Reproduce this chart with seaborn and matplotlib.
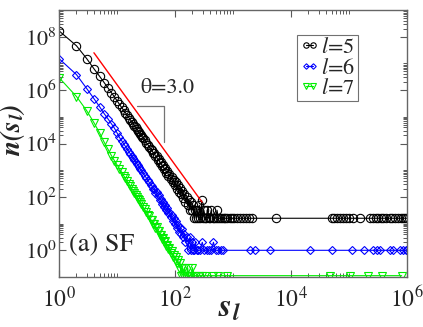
import numpy as np
import matplotlib
matplotlib.use("Agg")
import matplotlib.pyplot as plt
import matplotlib.ticker as mticker
import seaborn as sns

# cluster size distributions n(s_l) (log10 n)
s5 = [1, 2, 3, 4, 5, 6, 7, 8, 9, 10,
      11, 12, 13, 14, 15, 16, 17, 18, 19, 20,
      21, 22, 23, 24, 25, 26, 27, 28, 30, 32,
      34, 36, 38, 40, 42, 44, 46, 48, 50, 52,
      55, 57, 60, 62, 65, 68, 71, 74, 77, 80,
      84, 87, 91, 95, 99, 103, 108, 112, 117, 122,
      127, 133, 139, 145, 151, 158, 165, 172, 179, 187,
      195, 204, 213, 222, 232, 242, 252, 263, 275, 288,
      300, 315, 330, 345, 360, 380, 400, 420, 445, 470,
      500, 530, 560, 600, 640, 690, 740, 800, 870, 950,
      1050, 1150, 1300, 1500, 1700, 1900, 2100, 5500, 51000, 56000,
      62000, 70000, 78000, 88000, 100000, 115000, 155000, 230000, 260000, 290000,
      320000, 350000, 390000, 440000, 500000, 560000, 630000, 700000, 780000, 860000,
      940000, 1000000]
logn5 = [8.22, 7.66, 7.18, 6.80, 6.52, 6.28, 6.08, 5.90, 5.75, 5.60,
         5.47, 5.35, 5.25, 5.15, 5.05, 4.97, 4.89, 4.81, 4.74, 4.67,
         4.61, 4.54, 4.48, 4.42, 4.36, 4.31, 4.26, 4.21, 4.12, 4.03,
         3.95, 3.88, 3.80, 3.76, 3.65, 3.64, 3.52, 3.53, 3.40, 3.42,
         3.28, 3.30, 3.15, 3.19, 3.03, 3.08, 2.90, 2.96, 2.80, 2.86,
         2.66, 2.76, 2.54, 2.64, 2.44, 2.54, 2.30, 2.44, 2.18, 2.32,
         2.10, 2.22, 1.95, 2.10, 1.80, 2.00, 1.68, 1.90, 1.50, 1.80,
         1.50, 1.68, 1.20, 1.50, 1.20, 1.50, 1.20, 1.68, 1.20, 1.87,
         1.20, 1.50, 1.20, 1.20, 1.50, 1.20, 1.20, 1.50, 1.20, 1.20,
         1.20, 1.50, 1.20, 1.20, 1.20, 1.20, 1.20, 1.20, 1.20, 1.20,
         1.20, 1.20, 1.20, 1.20, 1.20, 1.20, 1.20, 1.20, 1.20, 1.20,
         1.20, 1.20, 1.20, 1.20, 1.20, 1.20, 1.20, 1.20, 1.20, 1.20,
         1.20, 1.20, 1.20, 1.20, 1.20, 1.20, 1.20, 1.20, 1.20, 1.20,
         1.20, 1.20]

s6 = [1, 2, 3, 4, 5, 6, 7, 8, 9, 10,
      11, 12, 13, 14, 15, 16, 17, 18, 19, 20,
      21, 22, 23, 24, 25, 26, 28, 30, 32, 34,
      36, 38, 40, 42, 44, 46, 48, 50, 52, 55,
      57, 60, 62, 65, 68, 71, 74, 77, 80, 84,
      87, 91, 95, 99, 103, 108, 112, 117, 122, 127,
      133, 139, 145, 151, 158, 165, 172, 180, 188, 196,
      205, 215, 225, 235, 250, 270, 295, 320, 350, 380,
      420, 460, 500, 550, 610, 680, 1950, 2400, 4400, 21000,
      51000, 112000, 182000, 257000, 300000, 340000, 510000, 575000, 760000, 850000,
      950000, 1000000]
logn6 = [7.18, 6.58, 6.06, 5.68, 5.38, 5.12, 4.92, 4.74, 4.58, 4.40,
         4.23, 4.11, 3.99, 3.89, 3.79, 3.70, 3.61, 3.53, 3.45, 3.38,
         3.31, 3.24, 3.18, 3.12, 3.06, 3.00, 2.90, 2.80, 2.71, 2.62,
         2.54, 2.46, 2.42, 2.28, 2.30, 2.14, 2.17, 2.02, 2.06, 1.88,
         1.93, 1.75, 1.81, 1.63, 1.68, 1.50, 1.57, 1.38, 1.45, 1.25,
         1.34, 1.11, 1.20, 1.00, 1.08, 0.85, 0.95, 0.70, 0.85, 0.60,
         0.78, 0.48, 0.60, 0.30, 0.48, 0.00, 0.30, 0.48, 0.00, 0.30,
         0.00, 0.00, 0.30, 0.00, 0.00, 0.00, 0.30, 0.00, 0.00, 0.00,
         0.00, 0.30, 0.00, 0.00, 0.00, 0.00, 0.00, 0.00, 0.00, 0.00,
         0.00, 0.00, 0.00, 0.00, 0.00, 0.00, 0.00, 0.00, 0.00, 0.00,
         0.00, 0.00]

s7 = [1, 2, 3, 4, 5, 6, 7, 8, 9, 10,
      11, 12, 13, 14, 15, 16, 17, 18, 19, 20,
      21, 22, 23, 24, 25, 26, 28, 30, 32, 34,
      36, 38, 40, 42, 44, 46, 48, 50, 52, 55,
      57, 60, 62, 65, 68, 71, 74, 77, 80, 84,
      87, 91, 95, 99, 103, 108, 112, 117, 122, 127,
      133, 139, 145, 151, 158, 165, 172, 180, 190, 200,
      215, 230, 260, 290, 330, 455, 550, 790, 47000, 105000,
      215000, 370000, 810000]
logn7 = [6.47, 5.76, 5.23, 4.78, 4.40, 4.05, 3.78, 3.55, 3.36, 3.20,
         3.06, 2.92, 2.80, 2.69, 2.58, 2.49, 2.40, 2.31, 2.22, 2.15,
         2.08, 2.00, 1.93, 1.87, 1.81, 1.75, 1.64, 1.53, 1.43, 1.34,
         1.29, 1.13, 1.13, 0.98, 0.99, 0.84, 0.86, 0.72, 0.73, 0.57,
         0.59, 0.43, 0.47, 0.30, 0.33, 0.16, 0.21, 0.05, 0.08, -0.09,
         -0.03, -0.25, -0.17, -0.35, -0.25, -0.47, -0.35, -0.65, -0.47, -0.95,
         -0.65, -0.95, -0.65, -0.95, -0.95, -0.65, -0.95, -0.95, -0.95, -0.65,
         -0.95, -0.95, -0.95, -0.95, -0.95, -0.95, -0.95, -0.95, -0.95, -0.95,
         -0.95, -0.95, -0.95]

# guide line with slope -3 and the bracket next to it
guide_s = [4, 292]
guide_n = [2.5e7, 64]
bracket_s = [22, 65, 65]
bracket_n = [2.6e5, 2.6e5, 1.1e4]

sns.set_theme(style="ticks")
plt.rcParams['font.family'] = ['STIXGeneral', 'DejaVu Serif']
plt.rcParams['mathtext.fontset'] = 'stix'

fig = plt.figure(figsize=(4.23, 3.27), dpi=100)
ax = fig.add_axes([0.1395, 0.1529, 0.8227, 0.8165])

series = [
    (s5, logn5, 'black', 'o', 6.0, r'$l$=5'),
    (s6, logn6, '#0000ff', 'D', 4.3, r'$l$=6'),
    (s7, logn7, '#00ee00', 'v', 6.0, r'$l$=7'),
]
for s, logn, col, mk, ms, lab in series:
    sns.lineplot(x=s, y=10 ** np.array(logn), ax=ax, color=col, lw=0.8,
                 marker=mk, ms=ms, mfc='none', mec=col, mew=0.8,
                 estimator=None, sort=False, label=lab)

sns.lineplot(x=guide_s, y=guide_n, ax=ax, color='red', lw=1.0,
             estimator=None, sort=False, legend=False)
ax.plot(bracket_s, bracket_n, color='0.45', lw=0.9)
ax.text(25, 1.15e6, 'θ=3.0', fontsize=16, va='center', ha='left')
ax.text(0.03, 0.12, '(a) SF', transform=ax.transAxes, fontsize=19,
        va='center', ha='left')

ax.set(xscale='log', yscale='log')
ax.set_xlim(1, 1e6)
ax.set_ylim(1e-1, 1e9)

ax.xaxis.set_major_locator(mticker.FixedLocator([1, 1e2, 1e4, 1e6]))
ax.yaxis.set_major_locator(mticker.FixedLocator([1, 1e2, 1e4, 1e6, 1e8]))
ax.xaxis.set_major_formatter(mticker.LogFormatterSciNotation())
ax.yaxis.set_major_formatter(mticker.LogFormatterSciNotation())
mult = [2, 3, 4, 5, 6, 7, 8, 9, 10]
ax.xaxis.set_minor_locator(mticker.FixedLocator([m * 100.0 ** k for k in range(3) for m in mult]))
ax.yaxis.set_minor_locator(mticker.FixedLocator([m * 100.0 ** k for k in range(5) for m in mult]))
ax.xaxis.set_minor_formatter(mticker.NullFormatter())
ax.yaxis.set_minor_formatter(mticker.NullFormatter())
ax.tick_params(which='both', direction='in', top=True, right=True,
               color='0.35', labelsize=17)
ax.tick_params(axis='x', which='major', pad=7)
ax.tick_params(axis='y', which='major', pad=1.5, labelsize=16)
ax.tick_params(which='major', length=5, width=0.8)
ax.tick_params(which='minor', length=3, width=0.7)
for sp in ax.spines.values():
    sp.set_color('0.4')
    sp.set_linewidth(1.0)

ax.set_xlabel(r'$\mathbfit{s_l}$', fontsize=24)
ax.set_ylabel(r'$\mathbfit{n(s_l)}$', fontsize=20)
ax.xaxis.set_label_coords(0.49, -0.065)
ax.yaxis.set_label_coords(-0.092, 0.55)

leg = ax.legend(loc='upper left', bbox_to_anchor=(0.684, 0.905), numpoints=2,
                fontsize=16, frameon=True, fancybox=False, edgecolor='0.3',
                handlelength=0.9, handletextpad=0.1, borderpad=0.1,
                labelspacing=0.0, borderaxespad=0, markerscale=0.65)
leg.get_frame().set_linewidth(0.8)

fig.savefig("out.png", dpi=100)
